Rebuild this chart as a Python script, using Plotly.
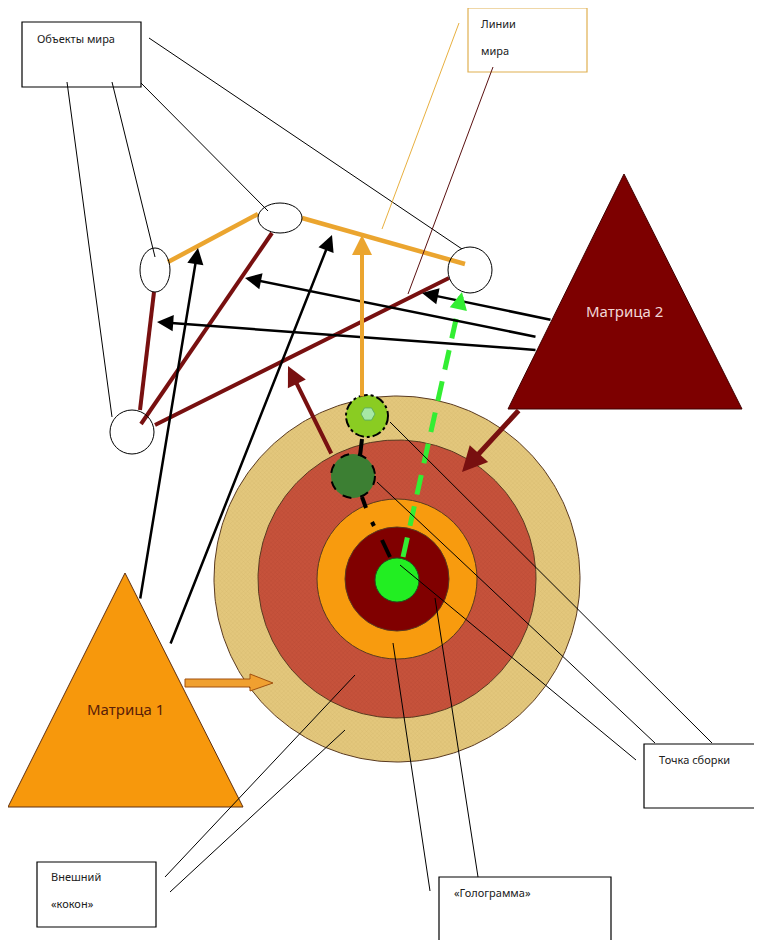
import math
import plotly.graph_objects as go

W, H = 762, 940
PAGE_MARGIN = 8  # browser body margin

# ---- diagram content (pixel coordinates of the reference picture) ----
ring_center = (397, 579)
ring_radii = [183, 139, 80, 52, 22]
ring_colors = ["#E3C77C", "#C6523B", "#F89B0E", "#800000", "#22EE22"]
ring_hatch = ["#B8964E", "#9C3424"]

# world objects: (cx, cy, rx, ry)
world_nodes = [(155, 270, 15, 22), (280, 218, 22, 15), (470, 270, 22, 23), (132, 432, 22, 22)]

# world lines (orange) and maroon links
orange_links = [((168, 262), (258, 214)), ((302, 218), (465, 264))]
maroon_links = [((154, 292), (140, 410)), ((272, 233), (141, 424)), ((449, 278), (155, 425))]

# triangles: apex, bottom-left, bottom-right
tri_m1 = [(125, 573), (8, 807), (243, 807)]
tri_m2 = [(624, 174), (508, 409), (742, 409)]

# arrows: (tail, head, colour, width)
arrows = [
    ((140, 600), (198, 248), "black", 2.5),
    ((170, 645), (332, 235), "black", 2.5),
    ((552, 320), (422, 293), "black", 2.5),
    ((537, 337), (245, 278), "black", 2.5),
    ((537, 350), (157, 322), "black", 2.5),
    ((362, 398), (362, 235), "#EBA52F", 4),
    ((332, 455), (288, 366), "#781010", 4),
    ((520, 409), (462, 472), "#781010", 5),
]

# label boxes: (x0, y0, x1, y1, border colour)
boxes = [(22, 22, 141, 87, "black"), (468, 8, 587, 72, "#E0B050"),
         (644, 744, 761, 808, "black"), (439, 877, 611, 950, "black"),
         (37, 862, 156, 927, "black")]
labels = [("Объекты мира", 35, 38), ("Линии", 479, 23), ("мира", 479, 50),
          ("Точка сборки", 657, 759), ("«Голограмма»", 452, 892),
          ("Внешний", 49, 876), ("«кокон»", 49, 903)]

# thin leader lines: (start, end, colour)
leaders = [
    ((67, 82), (112, 417), "black"), ((112, 82), (155, 257), "black"),
    ((141, 83), (268, 211), "black"), ((149, 38), (462, 249), "black"),
    ((459, 23), (382, 229), "#E8B040"), ((493, 67), (408, 294), "#5A1010"),
    ((390, 422), (712, 743), "black"), ((377, 482), (655, 743), "black"),
    ((400, 565), (636, 760), "black"), ((393, 643), (430, 891), "black"),
    ((435, 598), (478, 877), "black"), ((355, 675), (165, 877), "black"),
    ((345, 730), (170, 892), "black"),
]

# assembly point circles: (cx, cy, r, colour, dash)
points = [(367, 416, 21, "#8ACC22", "dashdot"), (353, 476, 22, "#3C7F33", "dash")]
black_ticks = [((362, 439), (360, 456)), ((362, 497), (366, 508)), ((372, 522), (374, 526)),
               ((382, 540), (390, 557))]
green_path = [(403, 557), (459, 306)]

fig = go.Figure()
shapes = []
annotations = []

cx, cy = ring_center
# hatched outer rings as filled traces (below all shapes)
for r, c, hc in zip(ring_radii[:2], ring_colors[:2], ring_hatch):
    ang = [2 * math.pi * i / 360 for i in range(361)]
    fig.add_trace(go.Scatter(
        x=[cx + r * math.cos(a) for a in ang], y=[cy + r * math.sin(a) for a in ang],
        mode="lines", fill="toself", fillcolor=c,
        fillpattern=dict(shape="x", fgcolor=hc, bgcolor=c, size=3, solidity=0.15),
        line=dict(color="#5A3A20", width=1), hoverinfo="skip"))
for r, c in zip(ring_radii[2:4], ring_colors[2:4]):
    shapes.append(dict(type="circle", x0=cx - r, x1=cx + r, y0=cy - r, y1=cy + r,
                       fillcolor=c, line=dict(color="#5A3A20", width=1)))


def tri_path(pts):
    return "M " + " L ".join(f"{x},{y}" for x, y in pts) + " Z"


shapes.append(dict(type="path", path=tri_path(tri_m1), fillcolor="#F7980C",
                   line=dict(color="#603010", width=1)))
shapes.append(dict(type="path", path=tri_path(tri_m2), fillcolor="#7D0000",
                   line=dict(color="#400000", width=1)))

# block arrow Matrix 1 -> cocoon
shapes.append(dict(type="path",
                   path="M 185,679 L 250,679 L 250,674 L 273,683 L 250,691 L 250,687 L 185,687 Z",
                   fillcolor="#F0A030", line=dict(color="#A05010", width=1)))

for (a, b) in maroon_links:
    shapes.append(dict(type="line", x0=a[0], y0=a[1], x1=b[0], y1=b[1],
                       line=dict(color="#781010", width=4)))
for (a, b) in orange_links:
    shapes.append(dict(type="line", x0=a[0], y0=a[1], x1=b[0], y1=b[1],
                       line=dict(color="#EBA52F", width=4.5)))

for (x, y, rx, ry) in world_nodes:
    shapes.append(dict(type="circle", x0=x - rx, x1=x + rx, y0=y - ry, y1=y + ry,
                       line=dict(color="black", width=1)))

for (x0, y0, x1, y1, c) in boxes:
    shapes.append(dict(type="rect", x0=x0, x1=x1, y0=y0, y1=y1, fillcolor="white",
                       line=dict(color=c, width=1.2)))

# green dashed line
shapes.append(dict(type="line", x0=green_path[0][0], y0=green_path[0][1],
                   x1=green_path[1][0], y1=green_path[1][1],
                   line=dict(color="#33EE33", width=5, dash="20px,12px")))

# assembly point circles
for (x, y, r, c, d) in points:
    shapes.append(dict(type="circle", x0=x - r, x1=x + r, y0=y - r, y1=y + r,
                       fillcolor=c, line=dict(color="black", width=2, dash=d)))
# hexagon inside light green point
hx, hy, hr = 368, 414, 7
hexpts = [(hx + hr * dx, hy + hr * dy) for dx, dy in
          [(1, 0), (0.5, 0.87), (-0.5, 0.87), (-1, 0), (-0.5, -0.87), (0.5, -0.87)]]
shapes.append(dict(type="path", path=tri_path(hexpts), fillcolor="#A6E8A6",
                   line=dict(color="#60B060", width=1)))

for (a, b) in black_ticks:
    shapes.append(dict(type="line", x0=a[0], y0=a[1], x1=b[0], y1=b[1],
                       line=dict(color="black", width=4)))

# green core
r = ring_radii[4]
shapes.append(dict(type="circle", x0=cx - r, x1=cx + r, y0=cy - r + 1, y1=cy + r + 1,
                   fillcolor=ring_colors[4], line=dict(color="#205020", width=1)))

for (a, b, c) in leaders:
    shapes.append(dict(type="line", x0=a[0], y0=a[1], x1=b[0], y1=b[1],
                       line=dict(color=c, width=1)))

for (t, h, c, w) in arrows:
    annotations.append(dict(x=h[0], y=h[1], ax=t[0], ay=t[1], xref="x", yref="y",
                            axref="x", ayref="y", text="", showarrow=True,
                            arrowhead=2, arrowsize=1.3 if w < 4 else 1.0,
                            arrowwidth=w, arrowcolor=c, standoff=0, startstandoff=0))
# green arrowhead
annotations.append(dict(x=462, y=292, ax=459, ay=306, xref="x", yref="y",
                        axref="x", ayref="y", text="", showarrow=True,
                        arrowhead=2, arrowsize=0.7, arrowwidth=5,
                        arrowcolor="#33EE33", standoff=0))

for (t, x, y) in labels:
    annotations.append(dict(x=x, y=y, xref="x", yref="y", text=t, showarrow=False,
                            xanchor="left", yanchor="middle",
                            font=dict(family="Noto Sans", size=11, color="#202020")))
annotations.append(dict(x=125, y=709, xref="x", yref="y", text="Матрица 1", showarrow=False,
                        font=dict(family="Noto Sans", size=15, color="#5A2008")))
annotations.append(dict(x=624, y=311, xref="x", yref="y", text="Матрица 2", showarrow=False,
                        font=dict(family="Noto Sans", size=15, color="#F2D6D6")))

fig.update_layout(
    width=W - PAGE_MARGIN, height=H - PAGE_MARGIN, margin=dict(l=0, r=0, t=0, b=0),
    paper_bgcolor="white", plot_bgcolor="white",
    xaxis=dict(range=[PAGE_MARGIN, W], visible=False, fixedrange=True),
    yaxis=dict(range=[H, PAGE_MARGIN], visible=False, fixedrange=True),
    shapes=shapes, annotations=annotations, showlegend=False,
)
fig.write_html("out.html", config={"displayModeBar": False})
